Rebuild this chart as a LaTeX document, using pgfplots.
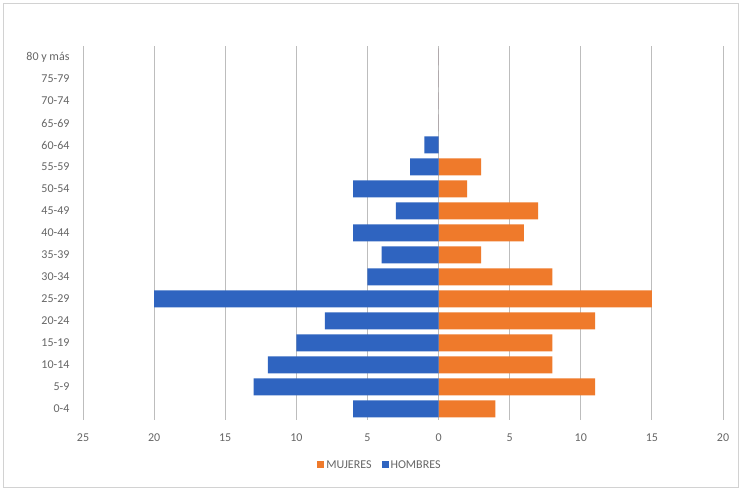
\documentclass[border=0pt]{standalone}
\usepackage{pgfplots}
\pgfplotsset{compat=1.18}
\usepackage{fontspec}
\setmainfont{Carlito}
\definecolor{hblue}{HTML}{2F64C0}
\definecolor{morange}{HTML}{EF7A2B}
\definecolor{txtgray}{HTML}{666666}
\definecolor{gridgray}{HTML}{BDBDBD}
\begin{document}
\begin{tikzpicture}
\useasboundingbox (0,0) rectangle (741bp,490bp);
\fill[white] (0,0) rectangle (741bp,490bp);
\draw[gray!35, line width=0.8bp] (3bp,3bp) rectangle (738bp,487bp);
\begin{axis}[
  at={(83bp,70bp)}, anchor=south west,
  scale only axis, width=640bp, height=374bp,
  xbar, bar shift=0pt, bar width=17bp,
  xmin=-25, xmax=20, ymin=-0.5, ymax=16.5,
  xtick={-25,-20,...,20},
  xticklabels={25,20,15,10,5,0,5,10,15,20},
  ytick={0,...,16},
  yticklabels={0-4,5-9,10-14,15-19,20-24,25-29,30-34,35-39,40-44,45-49,50-54,55-59,60-64,65-69,70-74,75-79,80 y más},
  /pgf/number format/assume math mode=true,
  axis line style={draw=none},
  major tick length=0pt,
  xmajorgrids, ymajorgrids=false,
  major grid style={gridgray, line width=0.9bp},
  tick label style={font=\fontsize{12bp}{14bp}\selectfont, text=txtgray},
  xticklabel style={yshift=-10bp},
  yticklabel style={xshift=-10bp},
  legend style={at={(0.464,-0.12)}, anchor=center, legend columns=2, draw=none, fill=none,
    font=\fontsize{12bp}{14bp}\selectfont, text=txtgray,
    /tikz/every even column/.append style={column sep=8bp}},
  legend image code/.code={\fill[#1] (0bp,-3.5bp) rectangle (7bp,3.5bp);},
  legend cell align=left,
]
\addplot[fill=morange, draw=none] coordinates {
  (4,0) (11,1) (8,2) (8,3) (11,4) (15,5) (8,6) (3,7) (6,8) (7,9) (2,10) (3,11) (0,12) (0,13) (0,14) (0,15) (0,16)};
\addlegendentry{MUJERES}
\addplot[fill=hblue, draw=none] coordinates {
  (-6,0) (-13,1) (-12,2) (-10,3) (-8,4) (-20,5) (-5,6) (-4,7) (-6,8) (-3,9) (-6,10) (-2,11) (-1,12) (0,13) (0,14) (0,15) (0,16)};
\addlegendentry{HOMBRES}
\end{axis}
\end{tikzpicture}
\end{document}
